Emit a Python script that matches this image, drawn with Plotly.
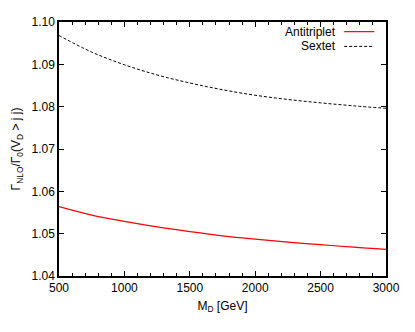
import plotly.graph_objects as go

# masses in GeV
mass = [500, 750, 1000, 1250, 1500, 1750, 2000, 2250, 2500, 2750, 3000]
# ratio Gamma_NLO / Gamma_0
antitriplet = [1.0564, 1.0544, 1.0529, 1.0516, 1.0505, 1.0495, 1.0487, 1.0480, 1.0474, 1.0468, 1.0463]
sextet = [1.0968, 1.0929, 1.0899, 1.0875, 1.0856, 1.0840, 1.0827, 1.0817, 1.0809, 1.0802, 1.0796]

x_ticks = [500, 1000, 1500, 2000, 2500, 3000]
y_ticks = [1.04, 1.05, 1.06, 1.07, 1.08, 1.09, 1.10]

fnt = dict(family="Liberation Sans, Arial, sans-serif", size=12, color="black")

fig = go.Figure()
fig.add_trace(go.Scatter(x=mass, y=antitriplet, mode="lines", name="Antitriplet",
                         line=dict(color="red", width=1.2, shape="spline")))
fig.add_trace(go.Scatter(x=mass, y=sextet, mode="lines", name="Sextet",
                         line=dict(color="black", width=1, dash="3px,2px", shape="spline")))

# gnuplot style key: text on the left, sample on the right
key = [("Antitriplet", dict(color="red", width=1.2), 0.962),
       ("Sextet", dict(color="black", width=1, dash="3px,2px"), 0.904)]
for label, ln, yk in key:
    fig.add_annotation(x=0.853, y=yk, xref="paper", yref="paper", text=label,
                       showarrow=False, xanchor="right", yanchor="middle", font=fnt)
    fig.add_shape(type="line", xref="paper", yref="paper", x0=0.872, x1=0.964,
                  y0=yk, y1=yk, line=ln)

axis_common = dict(showline=True, linecolor="black", linewidth=1.5, mirror="allticks",
                   ticks="inside", ticklen=5, tickcolor="black", tickwidth=1,
                   showgrid=False, zeroline=False, tickfont=fnt)

fig.update_xaxes(range=[500, 3000], tickvals=x_ticks,
                 minor=dict(dtick=100, ticks="inside", ticklen=3, tickcolor="black"),
                 title=dict(text="M<sub>D</sub> [GeV]", font=fnt, standoff=7),
                 **axis_common)
fig.update_yaxes(range=[1.04, 1.10], tickvals=y_ticks, tickformat=".2f",
                 title=dict(text="Γ<sub>NLO</sub>/Γ<sub>0</sub>(V<sub>D</sub> > j j)", font=fnt, standoff=8),
                 **axis_common)

# page body has an 8px margin, so the figure is sized to fit without scrollbars
fig.update_layout(width=399, height=316, margin=dict(l=48, r=15, t=7, b=48),
                  plot_bgcolor="white", paper_bgcolor="white", showlegend=False,
                  font=fnt)

fig.write_html("out.html")
